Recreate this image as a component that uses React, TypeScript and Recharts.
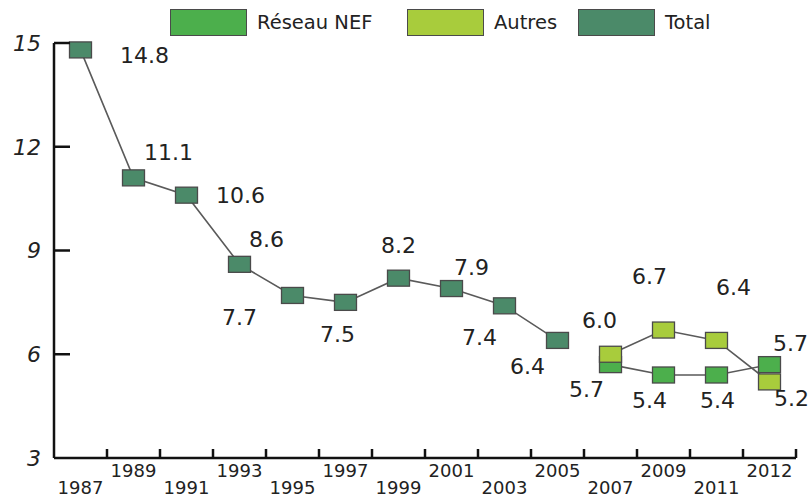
import React from 'react';
import { LineChart, Line, XAxis, YAxis, LabelList, Legend } from 'recharts';

// ---- data ----
const years = ['1987', '1989', '1991', '1993', '1995', '1997', '1999', '2001', '2003', '2005', '2007', '2009', '2011', '2012'];
const totalValues: (number | null)[] = [14.8, 11.1, 10.6, 8.6, 7.7, 7.5, 8.2, 7.9, 7.4, 6.4, null, null, null, null];
const nefValues: (number | null)[] = [null, null, null, null, null, null, null, null, null, null, 5.7, 5.4, 5.4, 5.7];
const autresValues: (number | null)[] = [null, null, null, null, null, null, null, null, null, null, 6.0, 6.7, 6.4, 5.2];
const yTicks = [3, 6, 9, 12, 15];
const seriesNames = { nef: 'Réseau NEF', autres: 'Autres', total: 'Total' };

// ---- styling (label offsets relative to each point) ----
const totalLabelOffsets: [number, number][] = [
  [64, 5], [35, -26], [54, 0], [27, -25], [-53, 22], [-8, 32], [0, -33], [20, -21], [-25, 31], [-30, 26],
  [0, 0], [0, 0], [0, 0], [0, 0],
];
const nefLabelOffsets: [number, number][] = [
  [0, 0], [0, 0], [0, 0], [0, 0], [0, 0], [0, 0], [0, 0], [0, 0], [0, 0], [0, 0],
  [-24, 24], [-14, 25], [1, 25], [21, -22],
];
const autresLabelOffsets: [number, number][] = [
  [0, 0], [0, 0], [0, 0], [0, 0], [0, 0], [0, 0], [0, 0], [0, 0], [0, 0], [0, 0],
  [-11, -34], [-14, -54], [17, -53], [22, 16],
];

const NEF_COLOR = '#4caf4c';
const AUTRES_COLOR = '#a8cc3c';
const TOTAL_COLOR = '#4b8a69';
const FONT = '"DejaVu Sans", sans-serif';
const W = 812;
const H = 500;
const MARGIN = { top: 43, right: 16, bottom: 0, left: 0 };
const Y_W = 54;
const X_H = 42;
const PLOT_W = W - MARGIN.left - MARGIN.right - Y_W;

const data = years.map((y, i) => ({
  year: y,
  total: totalValues[i],
  nef: nefValues[i],
  autres: autresValues[i],
}));

const makeDot = (color: string) => (props: any) => {
  const { cx, cy, value, index } = props;
  if (value == null || cx == null || cy == null) return <g key={`d-${index}`} />;
  return (
    <rect
      key={`d-${index}`}
      x={cx - 11}
      y={cy - 8}
      width={22}
      height={16}
      fill={color}
      stroke="#4a4a4a"
      strokeWidth={1.3}
    />
  );
};

const makeLabel = (offsets: [number, number][]) => (props: any) => {
  const { x, y, value, index } = props;
  if (value == null || x == null || y == null) return null;
  const [dx, dy] = offsets[index] || [0, 0];
  return (
    <text
      x={x + dx}
      y={y + dy}
      dy="0.36em"
      textAnchor="middle"
      fontSize={22}
      fontFamily={FONT}
      fill="#222"
    >
      {Number(value).toFixed(1)}
    </text>
  );
};

const XTick = (props: any) => {
  const { x, y, payload, index } = props;
  const bw = PLOT_W / years.length;
  const lower = index % 2 === 0;
  return (
    <g>
      <line x1={x + bw / 2} x2={x + bw / 2} y1={y} y2={y - 9} stroke="#111" strokeWidth={2.5} />
      <text
        x={x}
        y={y + (lower ? 36 : 19)}
        textAnchor="middle"
        fontSize={18}
        fontFamily={FONT}
        fill="#222"
      >
        {payload.value}
      </text>
    </g>
  );
};

const YTick = (props: any) => {
  const { x, y, payload } = props;
  return (
    <g>
      {payload.value !== yTicks[0] && (
        <line x1={x} x2={x + 16} y1={y} y2={y} stroke="#111" strokeWidth={2.5} />
      )}
      <text
        x={x - 13}
        y={y}
        dy="0.36em"
        textAnchor="end"
        fontSize={22}
        fontStyle="italic"
        fontFamily={FONT}
        fill="#222"
      >
        {payload.value}
      </text>
    </g>
  );
};

const legendItems = [
  { name: seriesNames.nef, color: NEF_COLOR, left: 170 },
  { name: seriesNames.autres, color: AUTRES_COLOR, left: 407 },
  { name: seriesNames.total, color: TOTAL_COLOR, left: 578 },
];

const LegendContent = () => (
  <div style={{ position: 'relative', width: W, height: 40 }}>
    {legendItems.map((it) => (
      <div
        key={it.name}
        style={{ position: 'absolute', left: it.left, top: 9, display: 'flex', alignItems: 'center', height: 27 }}
      >
        <div
          style={{
            width: 75,
            height: 25,
            background: it.color,
            border: '1.5px solid #4a4a4a',
          }}
        />
        <span style={{ marginLeft: 10, fontFamily: FONT, fontSize: 19.5, color: '#222', whiteSpace: 'nowrap' }}>
          {it.name}
        </span>
      </div>
    ))}
  </div>
);

export default function App() {
  return (
    <div style={{ position: 'absolute', left: 0, top: 0, width: W, height: H, background: '#fff' }}>
      <LineChart width={W} height={H} data={data} margin={MARGIN}>
        <XAxis
          dataKey="year"
          scale="band"
          interval={0}
          tick={<XTick />}
          tickLine={false}
          tickSize={0}
          tickMargin={0}
          height={X_H}
          axisLine={{ stroke: '#111', strokeWidth: 2.5 }}
        />
        <YAxis
          type="number"
          domain={[3, 15]}
          ticks={yTicks}
          interval={0}
          width={Y_W}
          tick={<YTick />}
          tickLine={false}
          tickSize={0}
          tickMargin={0}
          axisLine={{ stroke: '#111', strokeWidth: 2.5 }}
        />
        <Legend
          verticalAlign="middle"
          layout="horizontal"
          wrapperStyle={{ position: 'absolute', top: 0, left: 0, width: W, height: 40 }}
          content={<LegendContent />}
        />
        <Line
          dataKey="total"
          name={seriesNames.total}
          stroke="#5a5a5a"
          strokeWidth={1.6}
          dot={makeDot(TOTAL_COLOR)}
          activeDot={false}
          isAnimationActive={false}
        >
          <LabelList dataKey="total" content={makeLabel(totalLabelOffsets)} />
        </Line>
        <Line
          dataKey="nef"
          name={seriesNames.nef}
          stroke="#5a5a5a"
          strokeWidth={1.6}
          dot={makeDot(NEF_COLOR)}
          activeDot={false}
          isAnimationActive={false}
        >
          <LabelList dataKey="nef" content={makeLabel(nefLabelOffsets)} />
        </Line>
        <Line
          dataKey="autres"
          name={seriesNames.autres}
          stroke="#5a5a5a"
          strokeWidth={1.6}
          dot={makeDot(AUTRES_COLOR)}
          activeDot={false}
          isAnimationActive={false}
        >
          <LabelList dataKey="autres" content={makeLabel(autresLabelOffsets)} />
        </Line>
      </LineChart>
    </div>
  );
}
